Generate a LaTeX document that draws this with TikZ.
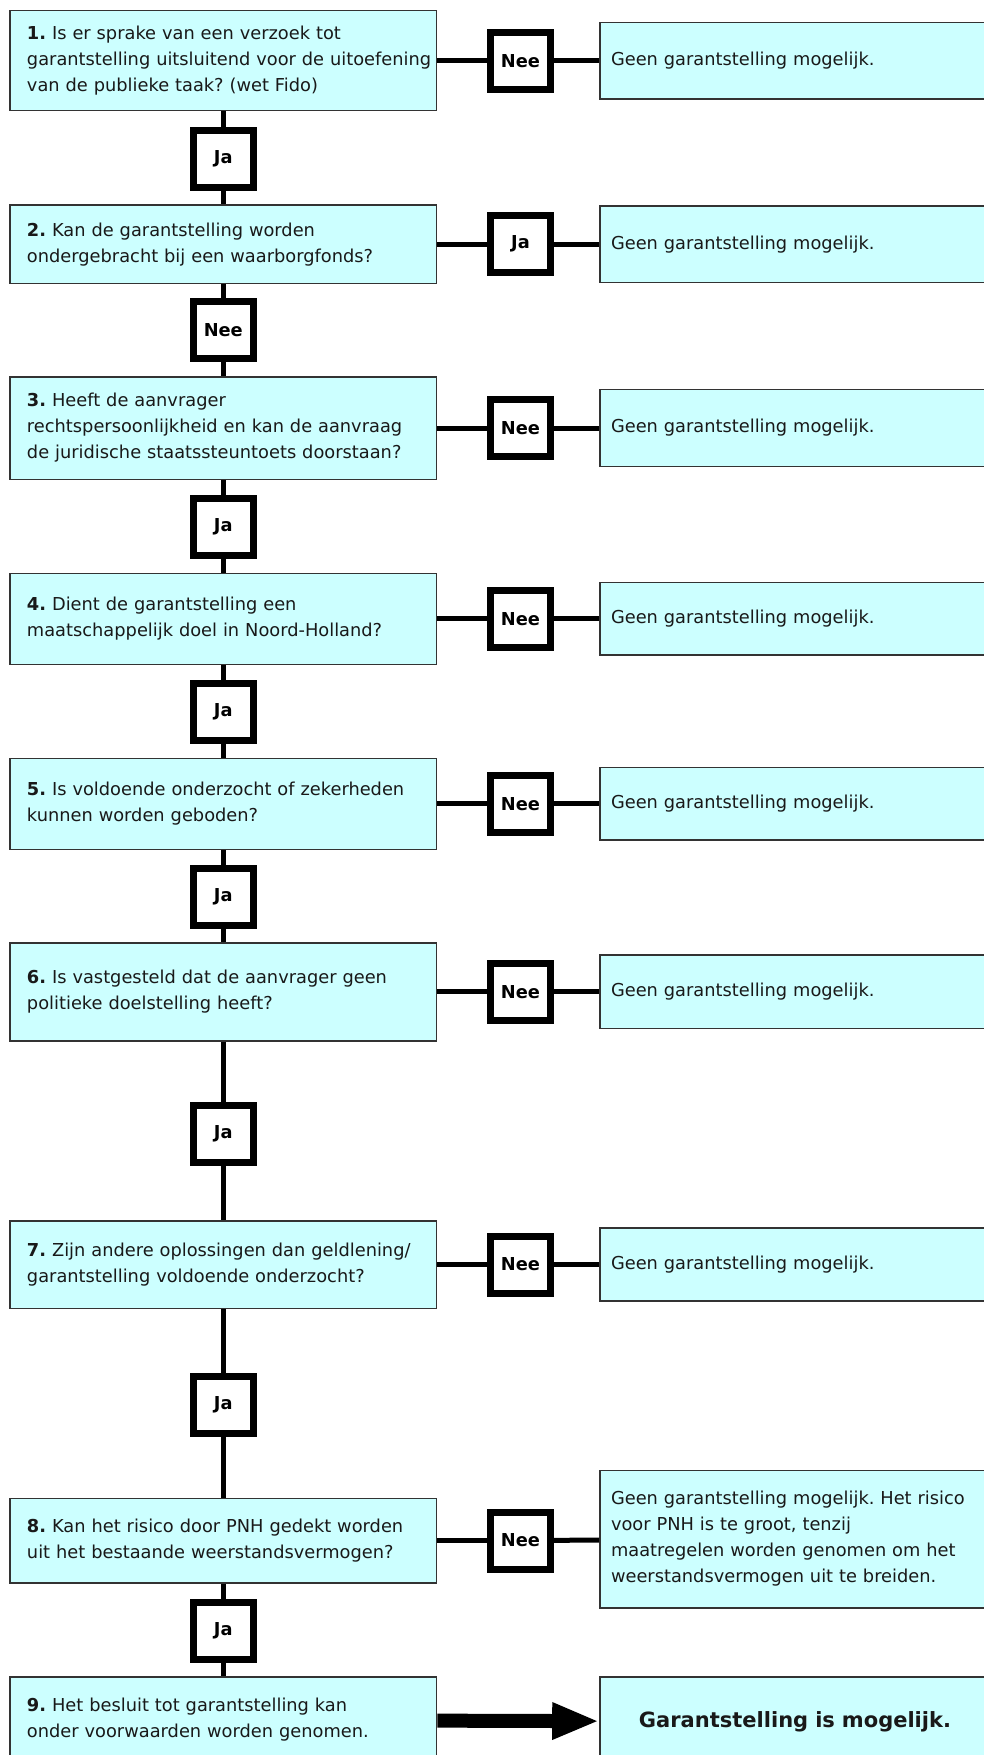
\documentclass[tikz,border=0pt]{standalone}
\usepackage{fontspec}
\setmainfont{DejaVu Sans}
\usetikzlibrary{arrows.meta}
\definecolor{boxvul}{HTML}{CCFFFF}
\definecolor{boxrand}{HTML}{333333}
\newcommand{\tekst}{\fontsize{17.8}{26}\selectfont\frenchspacing}

\begin{document}
\begin{tikzpicture}[x=1pt,y=-1pt,
    vak/.style={draw=boxrand,line width=1.6pt,fill=boxvul,inner xsep=0pt,
      inner ysep=2pt,font=\tekst,text=black!90},
    vraag/.style={vak,text width=426.6pt,align=left,
      execute at begin node={\leftskip=17pt\hyphenpenalty=10000}},
    uitkomst/.style={vak,text width=390pt,align=left,
      execute at begin node={\leftskip=11pt\hyphenpenalty=10000}},
    eind/.style={vak,text width=390pt,align=center,
      font=\fontsize{21}{25}\selectfont\bfseries},
    antwoord/.style={draw,line width=7pt,fill=white,minimum width=60pt,
      minimum height=57pt,inner sep=0pt,font=\tekst\bfseries},
    lijn/.style={line width=5pt}]
  \useasboundingbox (0,0) rectangle (983,1755);

  % vragen
  \node[vraag,minimum height=100pt]   (q1) at (223.3,60.7)   {\textbf{1.} Is er sprake van een verzoek tot\\garantstelling uitsluitend voor de uitoefening\\van de publieke taak? (wet Fido)};
  \node[vraag,minimum height=78.3pt]  (q2) at (223.3,244.2)  {\textbf{2.} Kan de garantstelling worden\\ondergebracht bij een waarborgfonds?};
  \node[vraag,minimum height=102.6pt] (q3) at (223.3,428)    {\textbf{3.} Heeft de aanvrager\\rechtspersoonlijkheid en kan de aanvraag\\de juridische staatssteuntoets doorstaan?};
  \node[vraag,minimum height=91pt]    (q4) at (223.3,618.8)  {\textbf{4.} Dient de garantstelling een\\maatschappelijk doel in Noord-Holland?};
  \node[vraag,minimum height=91pt]    (q5) at (223.3,803.8)  {\textbf{5.} Is voldoende onderzocht of zekerheden\\kunnen worden geboden?};
  \node[vraag,minimum height=98pt]    (q6) at (223.3,991.7)  {\textbf{6.} Is vastgesteld dat de aanvrager geen\\politieke doelstelling heeft?};
  \node[vraag,minimum height=87.6pt]  (q7) at (223.3,1264.5) {\textbf{7.} Zijn andere oplossingen dan geldlening/\\garantstelling voldoende onderzocht?};
  \node[vraag,minimum height=84.4pt]  (q8) at (223.3,1540.5) {\textbf{8.} Kan het risico door PNH gedekt worden\\uit het bestaande weerstandsvermogen?};
  \node[vraag,minimum height=86.6pt]  (q9) at (223.3,1720)   {\textbf{9.} Het besluit tot garantstelling kan\\onder voorwaarden worden genomen.};

  % uitkomsten
  \node[uitkomst,minimum height=76.6pt]  (r1) at (795,60.7)   {Geen garantstelling mogelijk.};
  \node[uitkomst,minimum height=76.6pt]  (r2) at (795,244.2)  {Geen garantstelling mogelijk.};
  \node[uitkomst,minimum height=77pt]    (r3) at (795,428)    {Geen garantstelling mogelijk.};
  \node[uitkomst,minimum height=72.7pt]  (r4) at (795,618.8)  {Geen garantstelling mogelijk.};
  \node[uitkomst,minimum height=72.3pt]  (r5) at (795,803.8)  {Geen garantstelling mogelijk.};
  \node[uitkomst,minimum height=73.3pt]  (r6) at (795,991.7)  {Geen garantstelling mogelijk.};
  \node[uitkomst,minimum height=72.7pt]  (r7) at (795,1264.5) {Geen garantstelling mogelijk.};
  \node[uitkomst,minimum height=137.4pt] (r8) at (795,1539)   {Geen garantstelling mogelijk. Het risico\\voor PNH is te groot, tenzij\\maatregelen worden genomen om het\\weerstandsvermogen uit te breiden.};
  \node[eind,minimum height=90pt]        (r9) at (795,1721.7) {Garantstelling is mogelijk.};

  % antwoorden naar rechts
  \node[antwoord] (a1) at (520.5,60.7)   {Nee};
  \node[antwoord] (a2) at (520.5,244.2)  {Ja};
  \node[antwoord] (a3) at (520.5,428)    {Nee};
  \node[antwoord] (a4) at (520.5,618.8)  {Nee};
  \node[antwoord] (a5) at (520.5,803.8)  {Nee};
  \node[antwoord] (a6) at (520.5,991.7)  {Nee};
  \node[antwoord] (a7) at (520.5,1264.5) {Nee};
  \node[antwoord] (a8) at (520.5,1540.5) {Nee};

  % antwoorden naar beneden
  \node[antwoord] (v1) at (223.3,158.7)  {Ja};
  \node[antwoord] (v2) at (223.3,330.3)  {Nee};
  \node[antwoord] (v3) at (223.3,527)    {Ja};
  \node[antwoord] (v4) at (223.3,711.7)  {Ja};
  \node[antwoord] (v5) at (223.3,897)    {Ja};
  \node[antwoord] (v6) at (223.3,1133.8) {Ja};
  \node[antwoord] (v7) at (223.3,1404.7) {Ja};
  \node[antwoord] (v8) at (223.3,1631)   {Ja};

  \draw[lijn] (q1) -- (a1); \draw[lijn] (a1) -- (r1);
  \draw[lijn] (q2) -- (a2); \draw[lijn] (a2) -- (r2);
  \draw[lijn] (q3) -- (a3); \draw[lijn] (a3) -- (r3);
  \draw[lijn] (q4) -- (a4); \draw[lijn] (a4) -- (r4);
  \draw[lijn] (q5) -- (a5); \draw[lijn] (a5) -- (r5);
  \draw[lijn] (q6) -- (a6); \draw[lijn] (a6) -- (r6);
  \draw[lijn] (q7) -- (a7); \draw[lijn] (a7) -- (r7);
  \draw[lijn] (q8) -- (a8); \draw[lijn] (a8) -- (r8);

  \draw[lijn] (q1) -- (v1); \draw[lijn] (v1) -- (q2);
  \draw[lijn] (q2) -- (v2); \draw[lijn] (v2) -- (q3);
  \draw[lijn] (q3) -- (v3); \draw[lijn] (v3) -- (q4);
  \draw[lijn] (q4) -- (v4); \draw[lijn] (v4) -- (q5);
  \draw[lijn] (q5) -- (v5); \draw[lijn] (v5) -- (q6);
  \draw[lijn] (q6) -- (v6); \draw[lijn] (v6) -- (q7);
  \draw[lijn] (q7) -- (v7); \draw[lijn] (v7) -- (q8);
  \draw[lijn] (q8) -- (v8); \draw[lijn] (v8) -- (q9);

  % dikke pijl naar de uitkomst
  \draw[line width=14pt,-{Triangle[length=47pt,width=34pt]}] (q9) -- (r9);
\end{tikzpicture}
\end{document}
